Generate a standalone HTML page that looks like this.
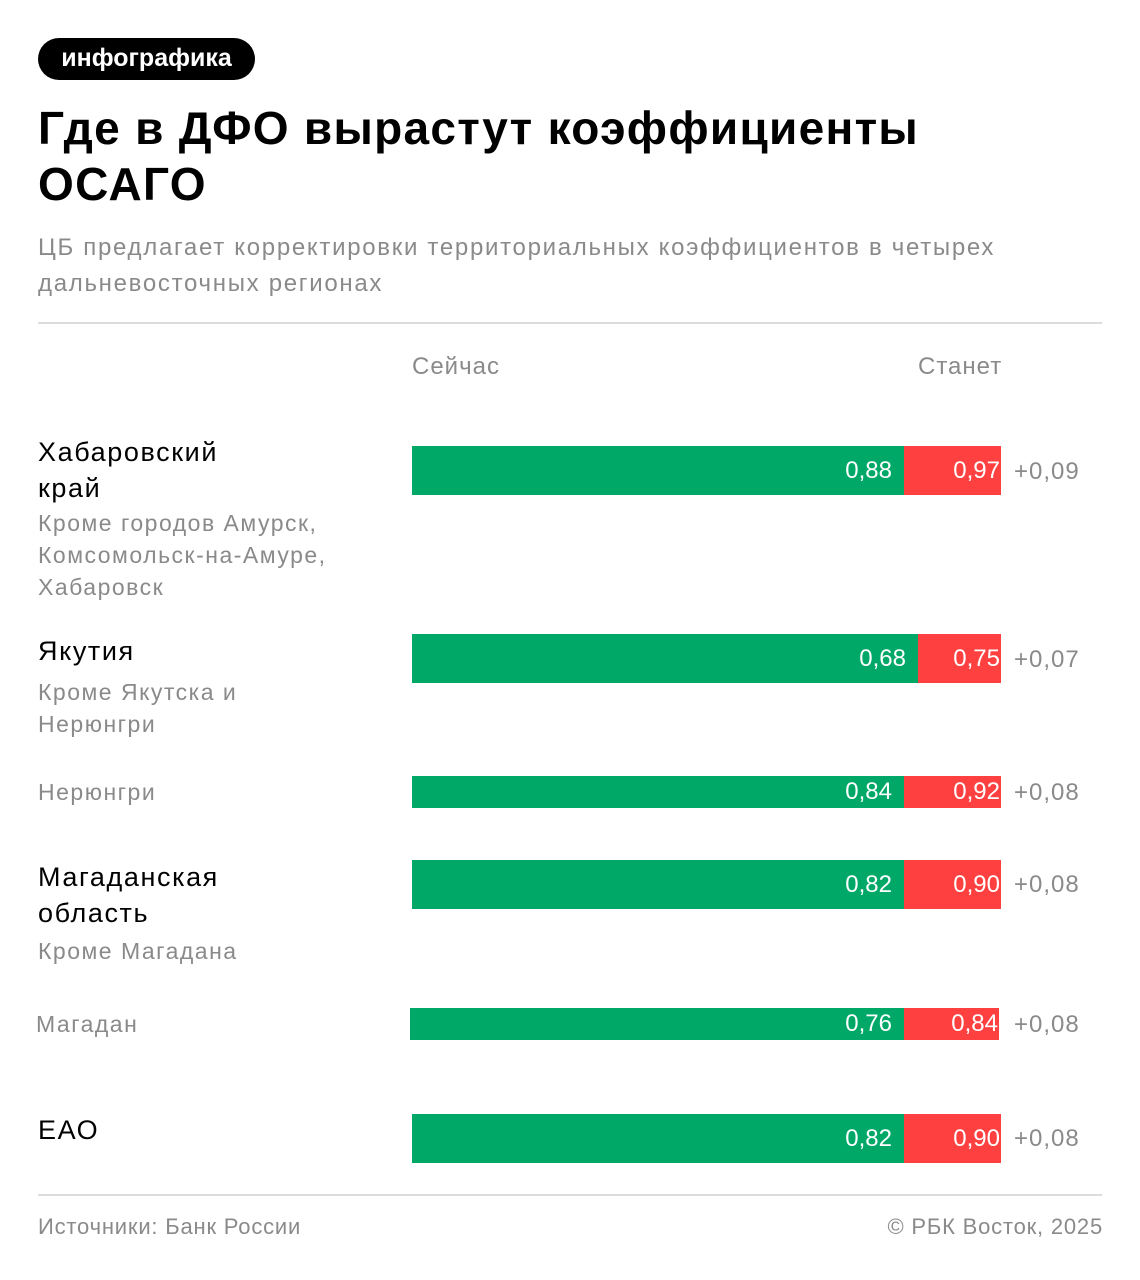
<!DOCTYPE html>
<html><head><meta charset="utf-8"><style>
body{margin:0;width:1140px;height:1280px;background:#fff;position:relative;font-family:"Liberation Sans",sans-serif;overflow:hidden}
.a{position:absolute;white-space:nowrap}
.pill{left:38px;top:38px;width:217px;height:42px;background:#000;border-radius:21px;color:#fff;font-size:25px;line-height:40px;text-align:center;font-weight:bold}
.t{left:38px;font-size:46px;font-weight:bold;color:#000;letter-spacing:1.3px}
.sub{left:38px;font-size:24px;color:#8a8a8a;letter-spacing:1.7px}
.hr{left:38px;width:1064px;height:2px;background:#dcdcdc}
.g{background:#00a868;color:#fff;font-size:24px;text-align:right;box-sizing:border-box;padding-right:12px}
.r{background:#ff4040;color:#fff;font-size:24px;text-align:right;box-sizing:border-box;padding-right:1px}
.d{font-size:24px;color:#8a8a8a;left:1014px;letter-spacing:1px}
.n{left:38px;font-size:27px;color:#000;line-height:36px;letter-spacing:1.6px}
.s{left:38px;font-size:23px;color:#8a8a8a;line-height:32px;letter-spacing:1.5px}
.h{font-size:24px;color:#8a8a8a;letter-spacing:1px}
.f{font-size:22px;color:#8a8a8a;letter-spacing:0.8px}
</style></head><body>
<div class="a pill">инфографика</div>
<div class="a t" style="top:101px">Где в ДФО вырастут коэффициенты</div>
<div class="a t" style="top:157px">ОСАГО</div>
<div class="a sub" style="top:234px">ЦБ предлагает корректировки территориальных коэффициентов в четырех</div>
<div class="a sub" style="top:270px">дальневосточных регионах</div>
<div class="a hr" style="top:322px"></div>
<div class="a h" style="left:412px;top:353px">Сейчас</div>
<div class="a h" style="left:918px;top:353px">Станет</div>

<div class="a n" style="top:434px">Хабаровский<br>край</div>
<div class="a s" style="top:507px">Кроме городов Амурск,<br>Комсомольск-на-Амуре,<br>Хабаровск</div>
<div class="a g" style="left:412px;top:446px;width:492px;height:49px;line-height:49px">0,88</div>
<div class="a r" style="left:904px;top:446px;width:97px;height:49px;line-height:49px">0,97</div>
<div class="a d" style="top:458px">+0,09</div>

<div class="a n" style="top:633px">Якутия</div>
<div class="a s" style="top:676px">Кроме Якутска и<br>Нерюнгри</div>
<div class="a g" style="left:412px;top:634px;width:506px;height:49px;line-height:49px">0,68</div>
<div class="a r" style="left:918px;top:634px;width:83px;height:49px;line-height:49px">0,75</div>
<div class="a d" style="top:646px">+0,07</div>

<div class="a s" style="top:776px">Нерюнгри</div>
<div class="a g" style="left:412px;top:776px;width:492px;height:32px;line-height:32px">0,84</div>
<div class="a r" style="left:904px;top:776px;width:97px;height:32px;line-height:32px">0,92</div>
<div class="a d" style="top:779px">+0,08</div>

<div class="a n" style="top:859px">Магаданская<br>область</div>
<div class="a s" style="top:935px">Кроме Магадана</div>
<div class="a g" style="left:412px;top:860px;width:492px;height:49px;line-height:49px">0,82</div>
<div class="a r" style="left:904px;top:860px;width:97px;height:49px;line-height:49px">0,90</div>
<div class="a d" style="top:871px">+0,08</div>

<div class="a s" style="left:36px;top:1008px">Магадан</div>
<div class="a g" style="left:410px;top:1008px;width:494px;height:32px;line-height:32px">0,76</div>
<div class="a r" style="left:904px;top:1008px;width:95px;height:32px;line-height:32px">0,84</div>
<div class="a d" style="top:1011px">+0,08</div>

<div class="a n" style="top:1112px">ЕАО</div>
<div class="a g" style="left:412px;top:1114px;width:492px;height:49px;line-height:49px">0,82</div>
<div class="a r" style="left:904px;top:1114px;width:97px;height:49px;line-height:49px">0,90</div>
<div class="a d" style="top:1125px">+0,08</div>

<div class="a hr" style="top:1194px"></div>
<div class="a f" style="left:38px;top:1214px">Источники: Банк России</div>
<div class="a f" style="right:37px;top:1214px">© РБК Восток, 2025</div>
</body></html>
